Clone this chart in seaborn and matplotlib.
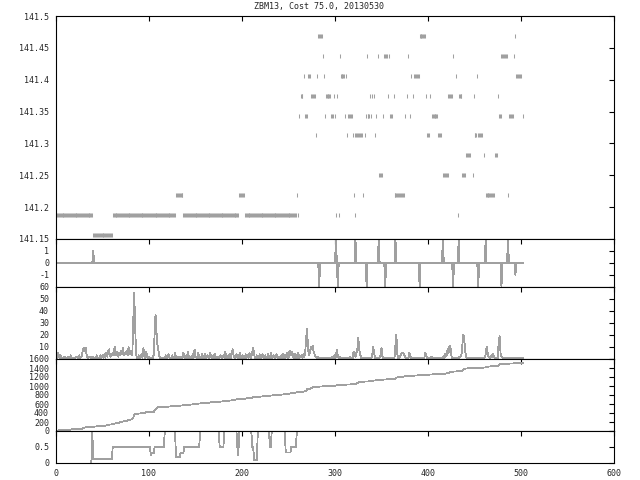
import numpy as np
import pandas as pd
import matplotlib
matplotlib.use("Agg")
import matplotlib.pyplot as plt
import seaborn as sns

# ---------------- data ----------------
title = "ZBM13, Cost 75.0, 20130530"
x_ticks = [0, 100, 200, 300, 400, 500, 600]
x_labels = ["0", "100", "200", "300", "400", "500", "600"]

# Panel 1: price, stored as runs (level in 1/32 ticks above 141.15625)
base_price = 141.15625
price_step = 1 / 32
run_level = ([0] + [1] * 9 + [2] * 8 + [3] * 4 + [4] * 3 + [5] * 10 + [6] * 19
             + [7] * 18 + [8] * 11 + [9] * 10 + [10] * 3)
run_start = ([40,
              0, 61, 137, 203, 260, 301, 304, 321, 432,
              129, 197, 259, 320, 330, 364, 462, 486,
              347, 416, 437, 448,
              441, 460, 472,
              280, 313, 319, 322, 332, 343, 399, 411, 450, 454,
              261, 268, 289, 296, 300, 311, 314, 333, 335, 339, 344, 352, 359, 375, 381, 404, 476, 487, 502,
              263, 274, 290, 299, 302, 338, 340, 342, 357, 363, 377, 384, 398, 402, 422, 433, 449, 475,
              267, 271, 281, 288, 306, 312, 382, 385, 430, 453, 495,
              287, 305, 334, 346, 353, 358, 379, 427, 479, 492,
              282, 391, 494])
run_len = ([21,
            40, 68, 60, 56, 1, 1, 1, 1, 1,
            8, 6, 1, 1, 1, 11, 10, 1,
            4, 6, 4, 1,
            5, 1, 3,
            1, 1, 1, 8, 1, 1, 3, 4, 3, 5,
            1, 3, 1, 3, 1, 1, 5, 1, 3, 1, 1, 1, 3, 1, 1, 7, 3, 5, 1,
            3, 5, 6, 1, 1, 1, 1, 1, 1, 1, 1, 1, 1, 1, 5, 4, 1, 1,
            1, 3, 1, 1, 5, 1, 1, 6, 1, 1, 6,
            1, 1, 1, 1, 4, 1, 1, 1, 7, 1,
            5, 7, 1])
price_yticks = [141.15, 141.2, 141.25, 141.3, 141.35, 141.4, 141.45, 141.5]
price_ylabels = ["141.15", "141.2", "141.25", "141.3", "141.35", "141.4", "141.45", "141.5"]

# Panel 2: signal spikes (index, value), zero elsewhere
n_points = 503
spike_idx = [40, 283, 301, 303, 322, 334, 347, 354, 365, 391, 416, 427, 433, 454, 462, 479, 486, 494]
spike_val = [1, -2, 2, -2, 2, -2, 2, -2, 2, -2, 2, -2, 2, -2, 2, -2, 2, -1]

# Panel 3: per-step values
step_vals = [
    6, 1, 5, 3, 1, 3, 1, 1, 1, 2, 1, 1, 1, 2, 1, 1, 3, 1, 1, 1,
    1, 1, 2, 1, 1, 3, 1, 2, 3, 8, 9, 7, 9, 3, 1, 1, 2,
    1, 1, 2, 1, 1, 1, 1, 3, 1, 1, 1, 3, 1, 3, 1, 4, 1, 5, 2, 6, 8, 3,
    2, 3, 5, 3, 10, 3, 5, 6, 2, 5, 3, 7, 4, 9, 3, 5, 4, 7, 3, 10, 4, 5, 7, 3,
    30, 55, 33,
    4, 1, 1, 3, 1, 2, 4, 1, 9, 2, 1, 6, 2, 1, 2,
    1, 1, 1, 1, 3, 21, 37, 23, 12, 8, 2, 1, 1, 1, 1,
    1, 1, 3, 1, 1, 4, 1, 1, 1, 3, 1, 1, 5, 1, 1, 2, 1, 1, 2, 1,
    1, 5, 1, 1, 3, 1, 6, 1, 1, 2, 1, 4, 1, 8, 2, 1, 1, 5, 1, 1,
    1, 4, 1, 1, 4, 1, 1, 3, 1, 1, 5, 1, 1, 3, 1, 4, 1, 1, 2, 1,
    1, 3, 1, 1, 3, 1, 6, 1, 1, 3, 1, 4, 1, 6, 8, 3, 1, 1, 4, 1, 3, 1, 5, 1, 1,
    3, 1, 1, 4, 1, 3, 1, 5, 1, 1, 6, 9, 4, 1, 1, 3, 1, 1, 4, 1,
    1, 4, 1, 1, 3, 1, 1, 4, 1, 1, 5, 1, 1, 3, 1, 1, 4, 1, 1, 2,
    1, 3, 1, 4, 1, 3, 1, 5, 1, 1, 6, 7, 3, 6, 2, 1, 4, 1, 1, 5, 1, 3,
    2, 3, 1, 4, 2, 6, 18, 25, 8, 3, 5, 10, 8, 11, 6, 4, 2, 1,
    2, 1, 1, 1, 1, 1, 1, 1, 1, 1, 1, 1, 1, 1, 1, 1, 2, 1, 3, 1, 2, 8, 3, 1, 2,
    1, 1, 1, 1, 1, 1, 1, 1, 1, 1, 2, 1, 1, 1, 6, 3, 2, 5, 8, 18,
    8, 4, 1, 1, 1, 1, 1, 1, 1, 1, 1, 1, 1, 1, 3, 10, 5, 1, 1, 1,
    1, 1, 1, 3, 9, 2, 1, 1, 1, 1, 1, 1, 1, 1, 1, 1, 1, 1, 1, 12, 20, 4, 1, 1,
    2, 4, 5, 5, 4, 3, 1, 1, 1, 1, 5, 2, 1, 1, 1, 1, 1, 1, 1, 1,
    1, 1, 1, 1, 1, 1, 1, 5, 3, 1, 1, 1, 1, 1, 2, 1,
    1, 1, 1, 1, 1, 1, 1, 1, 1, 1, 2, 1, 4, 2, 3, 8, 5, 10, 11, 3,
    1, 1, 1, 1, 1, 1, 1, 1, 2,
    2, 4, 12, 20, 17, 6, 2, 1, 1, 1, 1, 1, 1, 1, 1, 1, 1, 1, 1, 1,
    1, 1, 1, 1, 1, 1, 1, 4, 10, 6, 2, 1,
    1, 3, 2, 4, 2, 1, 1, 1, 1, 14, 19, 5, 2, 1, 1,
    1, 1, 1, 1, 1, 1, 1, 1, 1, 1, 1, 1, 1, 1, 1, 1, 1, 1, 1, 1, 1,
]

# Panel 5: ratio, stored as runs starting at index 38
ratio_start = 38
ratio_vals = [0, 1, 0.125, 0.5, 0.25, 0.3125, 0.5, 1, 0.1875, 0.3125, 0.5, 1, 0.5, 1,
              0.5, 0.25, 1, 0.5, 0.1, 1, 0.5, 1, 0.33, 0.5, 1]
ratio_lens = [1, 1, 21, 41, 1, 3, 11, 12, 5, 4, 17, 21, 5, 14,
              1, 1, 14, 2, 4, 13, 2, 15, 6, 6, 3]

# ---------------- build frames ----------------
price = np.full(n_points, np.nan)
for lev, st, ln in zip(run_level, run_start, run_len):
    price[st:st + ln] = base_price + lev * price_step
df_price = pd.DataFrame({"i": np.arange(n_points), "price": price}).dropna()

signal = np.zeros(n_points)
signal[spike_idx] = spike_val
df_sig = pd.DataFrame({"i": np.arange(n_points), "v": signal})

df_step = pd.DataFrame({"i": np.arange(len(step_vals)), "v": step_vals})
df_cum = pd.DataFrame({"i": np.arange(len(step_vals)), "v": np.cumsum(step_vals)})

ratio = np.repeat(ratio_vals, ratio_lens)
df_ratio = pd.DataFrame({"i": ratio_start + np.arange(len(ratio)), "v": ratio})

# ---------------- style ----------------
sns.set_style("white")
plt.rcParams["font.family"] = ["DejaVu Sans Mono"]
plt.rcParams["font.size"] = 6
plt.rcParams["lines.antialiased"] = False

gray = "#a0a0a0"
lw = 0.6

fig = plt.figure(figsize=(6.4, 4.8), dpi=100)
W, H = 640, 480
edges = [16, 239, 287, 359, 431, 463]
axes = []
for top, bot in zip(edges[:-1], edges[1:]):
    ax = fig.add_axes([56 / W, 1 - bot / H, 558 / W, (bot - top) / H])
    axes.append(ax)

ax1, ax2, ax3, ax4, ax5 = axes

sns.scatterplot(data=df_price, x="i", y="price", ax=ax1, marker="|", s=5,
                linewidth=0.75, color=gray, legend=False)
ax1.set_ylim(141.15, 141.5)
ax1.set_yticks(price_yticks)
ax1.set_yticklabels(price_ylabels)

sns.lineplot(data=df_sig, x="i", y="v", ax=ax2, color=gray, linewidth=lw)
ax2.set_ylim(-2, 2)
ax2.set_yticks([-1, 0, 1])
ax2.set_yticklabels(["-1", "0", "1"])

sns.lineplot(data=df_step, x="i", y="v", ax=ax3, color=gray, linewidth=lw)
ax3.set_ylim(0, 60)
ax3.set_yticks([0, 10, 20, 30, 40, 50, 60])
ax3.set_yticklabels(["", "10", "20", "30", "40", "50", "60"])

sns.lineplot(data=df_cum, x="i", y="v", ax=ax4, color=gray, linewidth=lw)
ax4.set_ylim(0, 1600)
ax4.set_yticks(list(range(0, 1601, 200)))
ax4.set_yticklabels([str(v) for v in range(0, 1601, 200)])

sns.lineplot(data=df_ratio, x="i", y="v", ax=ax5, color=gray, linewidth=lw)
ax5.set_ylim(0, 1)
ax5.set_yticks([0, 0.5, 1])
ax5.set_yticklabels(["0", "0.5", ""])

for k, ax in enumerate(axes):
    ax.set_xlim(0, 600)
    ax.set_xticks(x_ticks)
    if k == len(axes) - 1:
        ax.set_xticklabels(x_labels)
    else:
        ax.set_xticklabels([])
    ax.set_xlabel("")
    ax.set_ylabel("")
    for sp in ax.spines.values():
        sp.set_visible(True)
        sp.set_color("black")
        sp.set_linewidth(0.8)
    ax.tick_params(axis="both", direction="in", top=True, right=True,
                   length=3.6, width=0.8, color="black", labelsize=6)
    ax.tick_params(axis="y", pad=5)
    ax.tick_params(axis="x", pad=4)
    ax.set_facecolor("white")

fig.text(0.499, 1 - 7 / H, title, ha="center", va="center", fontsize=6)

fig.savefig("out.png", dpi=100, facecolor="white")
